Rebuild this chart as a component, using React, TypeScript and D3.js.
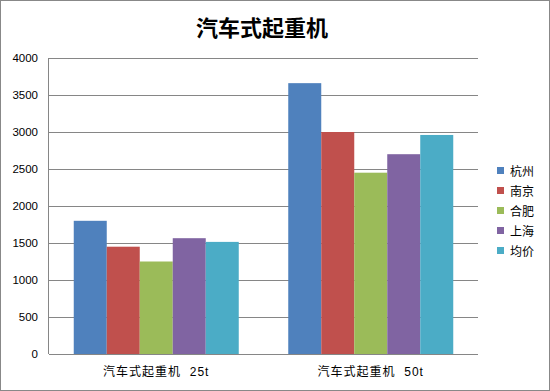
import React, { useEffect, useRef } from "react";
import * as d3 from "d3";

const categories = ["汽车式起重机  25t", "汽车式起重机  50t"];
const seriesNames = ["杭州", "南京", "合肥", "上海", "均价"];
const seriesColors = ["#4f81bd", "#c0504d", "#9bbb59", "#8064a2", "#4bacc6"];
const values = [
  [1800, 1450, 1250, 1565, 1515],
  [3660, 3000, 2450, 2700, 2960],
];
const yTicks = [0, 500, 1000, 1500, 2000, 2500, 3000, 3500, 4000];

const App: React.FC = () => {
  const svgRef = useRef<SVGSVGElement | null>(null);

  useEffect(() => {
    if (!svgRef.current) return;

    const width = 550;
    const height = 391;
    const margin = { top: 58, right: 72, bottom: 37, left: 49 };
    const font = "'Liberation Sans', 'Noto Sans CJK SC', sans-serif";

    d3.select(svgRef.current).selectAll("*").remove();
    const svg = d3
      .select(svgRef.current)
      .attr("width", width)
      .attr("height", height);

    // chart border
    svg
      .append("rect")
      .attr("x", 0.5)
      .attr("y", 0.5)
      .attr("width", width - 1)
      .attr("height", height - 1)
      .attr("fill", "white")
      .attr("stroke", "#888");

    svg
      .append("text")
      .attr("x", 262)
      .attr("y", 36)
      .attr("text-anchor", "middle")
      .attr("font-family", "'Noto Sans CJK SC', sans-serif")
      .attr("font-weight", "bold")
      .attr("font-size", 22)
      .attr("fill", "#000")
      .text("汽车式起重机");

    const x0 = d3
      .scaleBand()
      .domain(categories)
      .range([margin.left, width - margin.right])
      .padding(0);

    // gap width 150% like the original
    const barW = x0.bandwidth() / 6.5;
    const x1 = d3
      .scaleBand()
      .domain(seriesNames)
      .range([0, barW * seriesNames.length]);
    const groupOffset = (x0.bandwidth() - barW * seriesNames.length) / 2;

    const y = d3
      .scaleLinear()
      .domain([0, 4000])
      .range([height - margin.bottom, margin.top]);

    // gridlines + y labels
    svg
      .selectAll(".grid")
      .data(yTicks)
      .enter()
      .append("line")
      .attr("x1", margin.left)
      .attr("x2", width - margin.right)
      .attr("y1", (d) => Math.round(y(d)) + 0.5)
      .attr("y2", (d) => Math.round(y(d)) + 0.5)
      .attr("stroke", "#868686");

    svg
      .selectAll(".ylab")
      .data(yTicks)
      .enter()
      .append("text")
      .attr("x", 38)
      .attr("y", (d) => y(d) + 4)
      .attr("text-anchor", "end")
      .attr("font-family", font)
      .attr("font-size", 11.5)
      .attr("fill", "#000")
      .text((d) => d);

    // bars
    categories.forEach((c, ci) => {
      svg
        .append("g")
        .selectAll("rect")
        .data(values[ci])
        .enter()
        .append("rect")
        .attr("x", (_, i) => x0(c)! + groupOffset + x1(seriesNames[i])!)
        .attr("y", (d) => y(d))
        .attr("width", x1.bandwidth())
        .attr("height", (d) => y(0) - y(d))
        .attr("fill", (_, i) => seriesColors[i]);
    });

    // axis lines
    svg
      .append("line")
      .attr("x1", margin.left - 0.5)
      .attr("x2", margin.left - 0.5)
      .attr("y1", y(4000))
      .attr("y2", y(0))
      .attr("stroke", "#868686");
    svg
      .append("line")
      .attr("x1", margin.left)
      .attr("x2", width - margin.right)
      .attr("y1", Math.round(y(0)) + 0.5)
      .attr("y2", Math.round(y(0)) + 0.5)
      .attr("stroke", "#868686");

    // category labels
    svg
      .selectAll(".xlab")
      .data(categories)
      .enter()
      .append("text")
      .attr("x", (d) => x0(d)! + x0.bandwidth() / 2)
      .attr("y", 376)
      .attr("text-anchor", "middle")
      .attr("font-family", font)
      .attr("font-size", 12)
      .attr("letter-spacing", 1)
      .attr("fill", "#000")
      .style("white-space", "pre")
      .text((d) => d);

    // legend
    const legend = svg
      .append("g")
      .selectAll("g")
      .data(seriesNames)
      .enter()
      .append("g")
      .attr("transform", (_, i) => `translate(497, ${171 + i * 20})`);
    legend
      .append("rect")
      .attr("x", 0)
      .attr("y", -4)
      .attr("width", 7)
      .attr("height", 7)
      .attr("fill", (_, i) => seriesColors[i]);
    legend
      .append("text")
      .attr("x", 13)
      .attr("y", 5)
      .attr("font-family", font)
      .attr("font-size", 12)
      .attr("fill", "#000")
      .text((d) => d);
  }, []);

  return (
    <div style={{ position: "absolute", left: 0, top: 0 }}>
      <svg ref={svgRef} style={{ display: "block" }}></svg>
    </div>
  );
};

export default App;
